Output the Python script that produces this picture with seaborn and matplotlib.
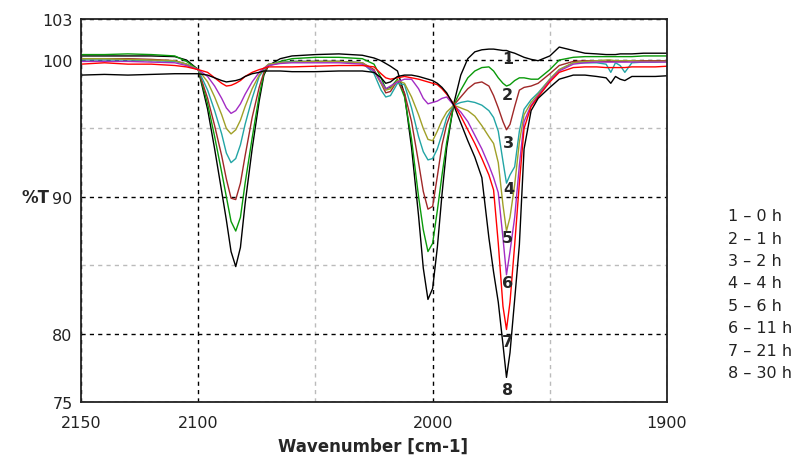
import numpy as np
import pandas as pd
import matplotlib
matplotlib.use('Agg')
import matplotlib.pyplot as plt
import seaborn as sns
from matplotlib.ticker import FixedLocator

# wavenumber grid (cm-1)
wn = [2150, 2140, 2130, 2120, 2110, 2105, 2100,
      2096, 2093, 2090, 2088, 2086, 2084, 2082, 2080, 2077, 2074, 2072, 2070,
      2065, 2060, 2050, 2040, 2030, 2025, 2022, 2020, 2018, 2015, 2012, 2009, 2006, 2004, 2002, 2000, 1998, 1996, 1994, 1991,
      1988, 1985, 1982, 1979, 1976, 1974, 1972, 1970, 1968.5, 1967, 1965, 1963, 1961, 1958, 1955, 1950, 1946,
      1940, 1935, 1930, 1926, 1924, 1922, 1920, 1918, 1915, 1910, 1905, 1900]

t_0h = [100.3, 100.3, 100.3, 100.3, 100.25, 100.0, 99.3,
        96.4, 93.5, 90.4, 88.3, 86.0, 84.9, 86.3, 89.5, 93.5, 97.0, 98.9, 99.6,
        100.1, 100.3, 100.4, 100.45, 100.35, 100.15, 99.95, 99.75, 99.55, 99.2, 97.5, 93.6, 88.6, 84.8, 82.5, 83.3, 86.3, 90.2, 93.6, 96.8,
        98.9, 100.1, 100.6, 100.75, 100.8, 100.8, 100.75, 100.7, 100.7, 100.6, 100.5, 100.35, 100.2, 100.05, 99.95, 100.3, 100.95,
        100.7, 100.5, 100.45, 100.4, 100.4, 100.4, 100.45, 100.45, 100.45, 100.5, 100.5, 100.5]
t_1h = [100.4, 100.4, 100.45, 100.4, 100.3, 99.9, 99.3,
        96.8, 94.4, 91.8, 90.0, 88.2, 87.5, 88.5, 91.0, 94.3, 97.4, 99.0, 99.6,
        99.9, 100.1, 100.2, 100.2, 100.1, 99.7, 98.7, 97.9, 98.0, 98.6, 97.3, 94.2, 90.0, 87.6, 86.0, 86.6, 89.0, 91.6, 94.0, 96.7,
        97.8, 98.7, 99.2, 99.45, 99.5, 99.2, 98.7, 98.3, 98.1, 98.2, 98.5, 98.7, 98.7, 98.6, 98.6, 99.3, 100.0,
        100.2, 100.25, 100.25, 100.25, 100.25, 100.25, 100.25, 100.25, 100.25, 100.3, 100.3, 100.3]
t_2h = [100.1, 100.1, 100.1, 100.05, 99.95, 99.7, 99.3,
        97.2, 95.2, 93.0, 91.3, 89.9, 89.8, 91.0, 93.0, 95.8, 98.0, 99.1, 99.6,
        99.8, 99.9, 99.9, 99.9, 99.8, 99.3, 98.3, 97.6, 97.7, 98.5, 97.6, 95.5, 92.5, 90.4, 89.1, 89.3, 91.5, 93.8, 95.3, 96.7,
        97.3, 97.9, 98.3, 98.4, 98.1, 97.4, 96.5, 95.5, 94.9, 95.3, 96.6, 97.8, 98.0, 98.1, 98.3, 99.0, 99.6,
        99.9, 99.95, 99.95, 99.9, 99.9, 99.9, 99.9, 99.9, 99.95, 99.95, 99.95, 99.95]
t_4h = [100.0, 100.0, 100.0, 99.95, 99.9, 99.7, 99.3,
        97.8, 96.3, 94.6, 93.2, 92.5, 92.8, 93.8, 95.3, 97.2, 98.8, 99.3, 99.7,
        99.8, 99.9, 99.9, 99.9, 99.8, 99.0, 97.8, 97.3, 97.4, 98.3, 98.2, 96.5, 94.4, 93.3, 92.7, 92.8, 93.5, 94.6, 95.8, 96.7,
        96.9, 97.0, 96.9, 96.7, 96.3, 95.8, 94.8, 92.6, 91.0, 91.6, 92.2, 94.8, 96.4, 97.1, 97.6, 98.6, 99.3,
        99.8, 99.8, 99.8, 99.7, 99.1, 99.8, 99.6, 99.1, 99.8, 99.85, 99.85, 99.9]
t_6h = [100.1, 100.1, 100.05, 100.0, 99.95, 99.7, 99.3,
        98.4, 97.3, 96.0, 95.0, 94.6, 94.9, 95.6, 96.6, 97.9, 98.9, 99.4, 99.7,
        99.8, 99.85, 99.9, 99.9, 99.8, 99.2, 98.3, 97.8, 97.9, 98.5, 98.3, 97.3, 96.0, 95.0, 94.2, 94.1, 94.8, 95.6, 96.2, 96.7,
        96.5, 96.3, 95.9, 95.2, 94.4, 93.9, 92.5, 89.4, 87.5, 88.5, 90.9, 94.0, 96.0, 96.9, 97.5, 98.6, 99.3,
        99.8, 99.9, 99.95, 100.0, 100.0, 99.95, 99.95, 99.95, 99.95, 99.9, 99.9, 99.9]
t_11h = [99.9, 99.9, 99.9, 99.85, 99.8, 99.6, 99.3,
         98.8, 98.1, 97.2, 96.5, 96.1, 96.3, 96.8, 97.5, 98.4, 99.1, 99.4, 99.6,
         99.75, 99.8, 99.8, 99.8, 99.7, 99.2, 98.4, 97.9, 98.1, 98.4, 98.6, 98.6, 97.9, 97.2, 96.8, 96.9, 97.0, 97.2, 97.3, 96.7,
         96.2, 95.5, 94.5, 93.5, 92.3, 91.4, 90.3, 87.0, 84.3, 86.0, 88.5, 92.3, 95.5, 96.7, 97.4, 98.5, 99.2,
         99.7, 99.8, 99.85, 99.85, 99.85, 99.85, 99.85, 99.85, 99.85, 99.85, 99.85, 99.85]
t_21h = [99.7, 99.8, 99.7, 99.7, 99.6, 99.5, 99.3,
         99.1, 98.7, 98.3, 98.1, 98.15, 98.3, 98.5, 98.8, 99.1, 99.3, 99.4, 99.5,
         99.5, 99.5, 99.55, 99.6, 99.6, 99.5, 99.0, 98.7, 98.6, 98.7, 98.8, 98.7, 98.6, 98.5, 98.4, 98.3, 98.2, 97.9, 97.5, 96.8,
         95.9, 94.9, 93.9, 92.8, 91.6, 90.5, 86.6, 82.0, 80.3, 82.3, 86.5, 91.0, 95.0, 96.6, 97.3, 98.4, 99.1,
         99.45, 99.5, 99.5, 99.45, 99.45, 99.45, 99.45, 99.45, 99.5, 99.5, 99.5, 99.55]
t_30h = [98.9, 98.95, 98.9, 98.95, 99.0, 99.0, 99.0,
         98.9, 98.7, 98.5, 98.4, 98.45, 98.5, 98.6, 98.8, 99.0, 99.1, 99.2, 99.2,
         99.2, 99.15, 99.15, 99.2, 99.2, 99.1, 98.7, 98.3, 98.4, 98.8, 98.9, 98.9, 98.8, 98.7, 98.6, 98.5, 98.3, 98.0, 97.6, 96.7,
         95.4, 94.1, 92.9, 91.4, 87.0, 84.5, 82.3, 79.2, 76.8, 78.6, 82.5, 86.5, 93.5, 96.3, 97.2, 98.0, 98.6,
         98.9, 98.9, 98.8, 98.7, 98.3, 98.8, 98.6, 98.5, 98.8, 98.8, 98.8, 98.85]

curves = [t_0h, t_1h, t_2h, t_4h, t_6h, t_11h, t_21h, t_30h]
hours = [0, 1, 2, 4, 6, 11, 21, 30]
curve_ids = ['1', '2', '3', '4', '5', '6', '7', '8']
colors = ['#000000', '#0a9a0a', '#a02828', '#22a5a5', '#a0a028', '#a32cc4', '#ff0000', '#000000']

# where the curve numbers sit (near the 1968 band)
label_wn = [1968.0, 1968.0, 1967.6, 1967.6, 1968.0, 1968.0, 1968.0, 1968.0]
label_t = [100.1, 97.5, 94.0, 90.6, 87.0, 83.75, 79.4, 75.95]

frames = []
for cid, vals in zip(curve_ids, curves):
    frames.append(pd.DataFrame({'wn': wn, 'T': vals, 'curve': cid}))
df = pd.concat(frames, ignore_index=True)

sns.set_style('white')
plt.rcParams['font.family'] = ['DejaVu Sans']

fig = plt.figure(figsize=(7.96, 4.6), dpi=100)
ax = fig.add_axes([0.1018, 0.1239, 0.7362, 0.8326])

sns.lineplot(data=df, x='wn', y='T', hue='curve', palette=colors, estimator=None,
             sort=False, legend=False, linewidth=1.0, ax=ax)

ax.set_xlim(2150, 1900)
ax.set_ylim(75, 103)
ax.xaxis.set_major_locator(FixedLocator([2150, 2100, 2000, 1900]))
ax.xaxis.set_minor_locator(FixedLocator([2050, 1950]))
ax.yaxis.set_major_locator(FixedLocator([75, 80, 90, 100, 103]))
ax.yaxis.set_minor_locator(FixedLocator([85, 95]))
ax.tick_params(which='both', direction='in', length=5, width=1, color='black',
               labelsize=11.5, labelcolor='#222222')
ax.tick_params(axis='x', pad=9)
ax.tick_params(axis='y', pad=6)

ax.set_axisbelow(True)
ax.grid(which='major', color='black', linestyle=(0, (3, 3)), linewidth=1)
ax.grid(which='minor', color='#bbbbbb', linestyle=(0, (3, 3)), linewidth=1)
for sp in ax.spines.values():
    sp.set_color('#222222')
    sp.set_linewidth(1.3)

ax.set_xlabel('Wavenumber [cm-1]', fontsize=12, fontweight='bold')
ax.xaxis.set_label_coords(0.498, -0.115)
ax.xaxis.label.set_va('center')
ax.set_ylabel('%T', fontsize=12, fontweight='bold', rotation=0)
ax.yaxis.set_label_coords(-0.0785, 0.535)
ax.yaxis.label.set_va('center')
ax.yaxis.label.set_ha('center')

for cid, x, y in zip(curve_ids, label_wn, label_t):
    ax.text(x, y, cid, fontsize=11.5, fontweight='bold', ha='center', va='center')

for i, (cid, h) in enumerate(zip(curve_ids, hours)):
    fig.text(728 / 796, 1 - (216.7 + i * 22.4) / 460, f'{cid} \u2013 {h} h',
             fontsize=11.5, color='#222222', ha='left', va='center')

fig.savefig('out.png', dpi=100)
